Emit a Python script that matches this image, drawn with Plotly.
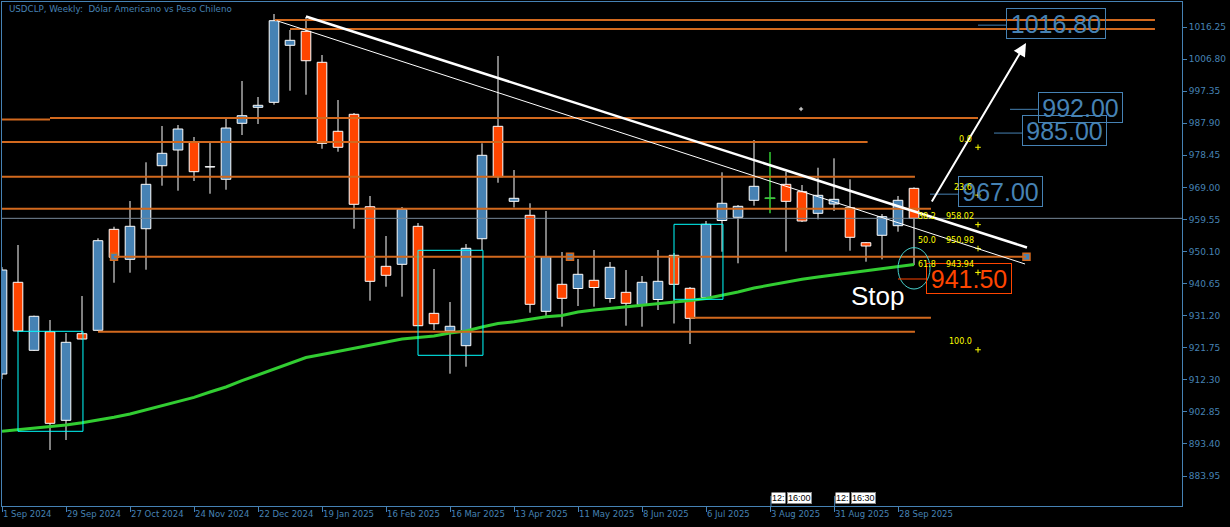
import plotly.graph_objects as go

TITLE = "USDCLP, Weekly:  Dólar Americano vs Peso Chileno"

# ---- axis labels ----
date_tick_bars = list(range(0, 57, 4))
date_labels = ["1 Sep 2024", "29 Sep 2024", "27 Oct 2024", "24 Nov 2024", "22 Dec 2024",
               "19 Jan 2025", "16 Feb 2025", "16 Mar 2025", "13 Apr 2025", "11 May 2025",
               "8 Jun 2025", "6 Jul 2025", "3 Aug 2025", "31 Aug 2025", "28 Sep 2025"]
price_ticks = ["883.95", "893.40", "902.85", "912.30", "921.75", "931.20", "940.65", "950.10",
               "959.55", "969.00", "978.45", "987.90", "997.35", "1006.80", "1016.25"]

# ---- weekly OHLC (bar index 0 = week of 1 Sep 2024) ----
opens = [914.0, 941.03, 920.99, 926.47, 900.37, 925.88, 926.89, 956.64, 947.80, 956.82,
         975.38, 980.01, 982.37, 975.0, 971.38, 987.88, 992.59, 994.06, 1010.86, 1014.98,
         1005.85, 985.52, 990.53, 963.30, 945.74, 946.33, 957.53, 931.89, 926.68, 922.35,
         953.87, 986.99, 964.89, 960.77, 932.48, 940.44, 939.20, 941.62, 936.26, 938.08,
         934.49, 935.96, 948.98, 939.26, 936.55, 959.24, 960.18, 965.19, 965.78, 969.90,
         967.72, 961.36, 964.10, 963.01, 952.70, 954.88, 957.71, 968.72]
highs = [945.5, 952.02, 931.2, 929.92, 926.09, 936.99, 953.99, 957.41, 964.98, 976.39,
         987.08, 987.38, 983.84, 982.07, 989.44, 1000.34, 995.63, 1020.08, 1015.37, 1019.20,
         1008.0, 994.74, 990.91, 966.46, 954.67, 963.22, 958.50, 944.95, 935.22, 952.31,
         981.98, 1007.71, 974.12, 964.31, 962.04, 949.96, 947.89, 950.55, 947.01, 944.65,
         942.88, 950.55, 949.66, 939.64, 959.09, 973.44, 963.80, 982.96, 979.42, 973.53,
         969.70, 974.79, 977.56, 971.38, 952.9, 961.15, 966.46, 969.0]
lows = [912.5, 926.5, 920.8, 891.62, 894.56, 924.2, 926.7, 940.91, 943.86, 944.74,
        969.49, 968.02, 970.88, 967.13, 968.31, 984.43, 987.67, 993.36, 997.48, 996.30,
        980.39, 979.51, 956.82, 935.61, 939.73, 936.79, 928.15, 926.97, 914.10, 916.16,
        950.55, 970.37, 963.07, 932.07, 930.89, 927.95, 934.05, 933.84, 935.02, 928.24,
        927.95, 932.87, 928.89, 922.85, 936.11, 950.04, 946.63, 963.60, 961.36, 950.04,
        958.80, 959.59, 962.04, 950.34, 947.10, 947.80, 955.94, 946.12]
closes = [944.65, 926.68, 931.01, 899.48, 923.35, 924.32, 953.29, 948.39, 957.53, 969.90,
          979.04, 986.20, 973.62, 975.1, 986.49, 990.12, 993.18, 1018.11, 1012.33, 1006.32,
          981.98, 980.81, 964.01, 941.32, 943.09, 962.54, 928.24, 928.83, 928.07, 951.05,
          978.45, 972.14, 965.78, 934.55, 948.57, 936.31, 943.39, 939.50, 945.45, 934.84,
          941.03, 941.32, 940.44, 930.42, 958.12, 964.31, 963.42, 969.31, 965.78, 964.89,
          959.09, 966.66, 965.48, 954.29, 951.72, 960.36, 965.19, 959.88]

# ---- moving average (green) ----
ma_values = [897.16, 897.57, 898.04, 898.48, 898.98, 899.66, 900.40, 901.28, 902.22, 903.40,
             904.58, 905.91, 907.14, 908.71, 910.18, 912.04, 913.72, 915.63, 917.25, 918.87,
             919.76, 920.64, 921.52, 922.55, 923.44, 924.32, 924.76, 925.21, 926.09, 926.68,
             927.86, 928.89, 929.42, 930.07, 930.86, 931.25, 932.28, 932.87, 933.31, 933.75,
             934.19, 934.78, 935.14, 935.67, 936.26, 937.14, 938.17, 939.35, 940.23, 941.03,
             941.91, 942.59, 943.18, 943.86, 944.51, 945.09, 945.68, 946.27]

bid_price = 959.88

# ---- horizontal support / resistance levels ----
level_prices = [1018.31, 1015.66, 988.99, 989.44, 982.37, 972.14, 962.71, 948.57, 926.47, 930.60]
level_start = [17.06, 18.0, -0.2, 3.0, -0.2, -0.2, -0.2, 7.0, 6.0, 43.0]
level_end = [72.06, 72.06, 3.0, 61.0, 54.1, 57.06, 58.06, 64.0, 57.06, 58.06]
anchor_bars = [7.0, 35.5, 64.03]
anchor_price = 948.57

# ---- trend lines ----
trend_x0 = [19.0, 17.17]
trend_y0 = [1019.34, 1018.11]
trend_x1 = [64.06, 63.94]
trend_y1 = [951.28, 946.42]
trend_w = [2.5, 1]

arrow_from = (58.06, 964.39)
arrow_to = (64.0, 1011.54)

# ---- cyan boxes ----
rect_x0 = [1.0, 26.0, 42.0]
rect_x1 = [5.06, 30.06, 45.06]
rect_y0 = [897.13, 919.52, 936.02]
rect_y1 = [926.59, 950.46, 958.12]

ellipse_x = (56.0, 58.0)
ellipse_y = (939.05, 951.25)
stop_line_price = 942.0
stop_line_x = (56.0, 57.75)

# ---- price labels ----
label_values = [1016.80, 992.00, 985.00, 967.00]
label_box_x = [65.875, 67.43, 66.43, 62.43]
label_box_y = [1017.19, 992.44, 985.71, 967.69]
label_box_w = [98, 83, 83, 83]
lead_x0 = [61.0, 63.0, 62.0, 58.0]
lead_x1 = [62.75, 64.75, 63.75, 59.75]

stop_value = 941.50
stop_box = (60.44, 942.06)
stop_text_pos = (54.75, 937.0)

# ---- fibonacci ----
fib_top = 980.81
fib_bottom = 921.15
fib_levels = [0.0, 23.6, 38.2, 50.0, 61.8, 100.0]
fib_show_price = [False, False, True, True, True, False]

time_marks = [(48.06, "12:", "16:00"), (52.04, "12:", "16:30")]

STEEL = "#4682b4"
ORANGE = "#d2691e"
PX_PRICE = 0.29464  # price units per pixel
X_RANGE = [0, 73.75]
Y_RANGE = [875.12, 1023.62]

fig = go.Figure()

# candle bodies
n = len(opens)
bars = list(range(n))
base, height, colors = [], [], []
for o, c in zip(opens, closes):
    base.append(min(o, c))
    height.append(abs(c - o) if o != c else 0)
    colors.append(STEEL if c > o else ("#ff4500" if c < o else "rgba(0,0,0,0)"))

# wicks
wx, wy = [], []
dx, dy = [], []
for i, (o, h, l, c) in enumerate(zip(opens, highs, lows, closes)):
    if o == c:
        dx += [i, i, None, i - 0.34, i + 0.34, None]
        dy += [h, l, None, o, o, None]
        continue
    top, bot = max(o, c), min(o, c)
    if h > top:
        wx += [i, i, None]; wy += [h, top, None]
    if l < bot:
        wx += [i, i, None]; wy += [bot, l, None]

fig.add_trace(go.Bar(x=bars, base=base, y=height, width=0.6,
                     marker=dict(color=colors, line=dict(color="white", width=1)),
                     hoverinfo="skip", showlegend=False))
fig.add_trace(go.Scatter(x=wx, y=wy, mode="lines", line=dict(color="white", width=1),
                         hoverinfo="skip", showlegend=False))
fig.add_trace(go.Scatter(x=dx, y=dy, mode="lines", line=dict(color="#32cd32", width=1.5),
                         hoverinfo="skip", showlegend=False))
fig.add_trace(go.Scatter(x=bars, y=ma_values, mode="lines",
                         line=dict(color="#32cd32", width=3),
                         hoverinfo="skip", showlegend=False))

shapes = []
# bid line
shapes.append(dict(type="line", xref="paper", yref="y", x0=0, x1=1, y0=bid_price, y1=bid_price,
                   line=dict(color="#778899", width=1), layer="above"))
for p, a, b in zip(level_prices, level_start, level_end):
    shapes.append(dict(type="line", xref="x", yref="y", x0=a, x1=b, y0=p, y1=p,
                       line=dict(color=ORANGE, width=2), layer="above"))
for x0, y0, x1, y1, w in zip(trend_x0, trend_y0, trend_x1, trend_y1, trend_w):
    shapes.append(dict(type="line", xref="x", yref="y", x0=x0, y0=y0, x1=x1, y1=y1,
                       line=dict(color="white", width=w), layer="above"))
for x0, x1, y0, y1 in zip(rect_x0, rect_x1, rect_y0, rect_y1):
    shapes.append(dict(type="rect", xref="x", yref="y", x0=x0, x1=x1, y0=y0, y1=y1,
                       line=dict(color="#00ffff", width=1), layer="above"))
shapes.append(dict(type="circle", xref="x", yref="y", x0=ellipse_x[0], x1=ellipse_x[1],
                   y0=ellipse_y[0], y1=ellipse_y[1], line=dict(color="#48d1cc", width=1),
                   layer="above"))
shapes.append(dict(type="line", xref="x", yref="y", x0=stop_line_x[0], x1=stop_line_x[1],
                   y0=stop_line_price, y1=stop_line_price,
                   line=dict(color="#ff4500", width=1), layer="above"))
for v, a, b in zip(label_values, lead_x0, lead_x1):
    shapes.append(dict(type="line", xref="x", yref="y", x0=a, x1=b, y0=v, y1=v,
                       line=dict(color=STEEL, width=1), layer="above"))
for bx, _, _ in time_marks:
    shapes.append(dict(type="line", xref="x", yref="paper", x0=bx, x1=bx, y0=0, y1=0.02,
                       line=dict(color=STEEL, width=1), layer="above"))

# anchor squares
fig.add_trace(go.Scatter(x=anchor_bars, y=[anchor_price] * len(anchor_bars), mode="markers",
                         marker=dict(symbol="square", size=7, color=STEEL,
                                     line=dict(color=ORANGE, width=1.5)),
                         hoverinfo="skip", showlegend=False))

# fib
fib_prices = [fib_top - (fib_top - fib_bottom) * lv / 100.0 for lv in fib_levels]
fig.add_trace(go.Scatter(x=[61.0] * len(fib_prices), y=fib_prices, mode="markers",
                         marker=dict(symbol="cross-thin", size=4, line=dict(color="yellow", width=1)),
                         hoverinfo="skip", showlegend=False))
fig.add_trace(go.Scatter(x=[49.94], y=[992.09], mode="markers",
                         marker=dict(symbol="cross-thin", size=3, line=dict(color="white", width=1)),
                         hoverinfo="skip", showlegend=False))

annotations = []
annotations.append(dict(xref="paper", yref="paper", x=0.0042, y=0.986, xanchor="left",
                        yanchor="middle", text=TITLE, showarrow=False,
                        font=dict(family="DejaVu Sans", size=8.7, color=STEEL)))
for v, x, y, w in zip(label_values, label_box_x, label_box_y, label_box_w):
    annotations.append(dict(xref="x", yref="y", x=x, y=y, text=f"{v:.2f}", showarrow=False,
                            font=dict(family="Liberation Sans", size=25, color=STEEL),
                            bordercolor=STEEL, borderwidth=1, borderpad=0,
                            width=w, height=29, xanchor="center", yanchor="middle"))
annotations.append(dict(xref="x", yref="y", x=stop_box[0], y=stop_box[1], text=f"{stop_value:.2f}",
                        showarrow=False, font=dict(family="Liberation Sans", size=25, color="#ff4500"),
                        bordercolor="#ff4500", borderwidth=1, borderpad=0, width=84, height=29,
                        xanchor="center", yanchor="middle"))
annotations.append(dict(xref="x", yref="y", x=stop_text_pos[0], y=stop_text_pos[1], text="Stop",
                        showarrow=False, font=dict(family="Liberation Sans", size=26, color="white"),
                        xanchor="center", yanchor="middle"))
annotations.append(dict(xref="x", yref="y", x=arrow_to[0], y=arrow_to[1], ax=arrow_from[0],
                        ay=arrow_from[1], axref="x", ayref="y", text="", showarrow=True,
                        arrowhead=2, arrowsize=1.3, arrowwidth=2, arrowcolor="white", standoff=0))
for lv, fp, sp in zip(fib_levels, fib_prices, fib_show_price):
    ty = fp + 8 * PX_PRICE
    if sp:
        annotations.append(dict(xref="x", yref="y", x=58.5, y=ty, text=f"{lv:.1f}", showarrow=False,
                                xanchor="right", yanchor="middle",
                                font=dict(family="DejaVu Sans", size=8, color="yellow")))
        annotations.append(dict(xref="x", yref="y", x=60.875, y=ty, text=f"{fp:.2f}", showarrow=False,
                                xanchor="right", yanchor="middle",
                                font=dict(family="DejaVu Sans", size=8, color="yellow")))
    else:
        annotations.append(dict(xref="x", yref="y", x=60.75, y=ty, text=f"{lv:.1f}", showarrow=False,
                                xanchor="right", yanchor="middle",
                                font=dict(family="DejaVu Sans", size=8, color="yellow")))
for bx, t1, t2 in time_marks:
    annotations.append(dict(xref="x", yref="y", x=bx, y=877.42, text=t1, showarrow=False,
                            xanchor="left", yanchor="middle", bgcolor="white", borderpad=0,
                            font=dict(family="Liberation Sans", size=9, color="black")))
    annotations.append(dict(xref="x", yref="y", x=bx + 1.0, y=877.42, text=t2, showarrow=False,
                            xanchor="left", yanchor="middle", bgcolor="white", borderpad=0,
                            bordercolor="#888", borderwidth=1,
                            font=dict(family="Liberation Sans", size=9, color="black")))

fig.update_layout(
    width=1230, height=527,
    margin=dict(l=2, r=48, t=2, b=21, autoexpand=False),
    paper_bgcolor="black", plot_bgcolor="black",
    shapes=shapes, annotations=annotations,
    showlegend=False, hovermode=False, bargap=0,
    xaxis=dict(range=X_RANGE, tickvals=date_tick_bars, ticktext=date_labels,
               ticks="outside", ticklen=5, tickcolor=STEEL, showline=True, linecolor=STEEL,
               linewidth=1, mirror=True, showgrid=False, zeroline=False,
               ticklabelposition="outside right", tickangle=0, automargin=False,
               tickfont=dict(family="DejaVu Sans", size=8.5, color=STEEL)),
    yaxis=dict(range=Y_RANGE, side="right", tickvals=[float(t) for t in price_ticks],
               ticktext=price_ticks, ticks="outside", ticklen=4, tickcolor=STEEL,
               showline=True, linecolor=STEEL, linewidth=1, mirror=True, showgrid=False,
               zeroline=False, automargin=False,
               tickfont=dict(family="DejaVu Sans", size=9, color=STEEL)),
)

fig.write_html("out.html", config={"displayModeBar": False, "staticPlot": True},
               post_script="document.body.style.margin='0';document.body.style.background='black';")
